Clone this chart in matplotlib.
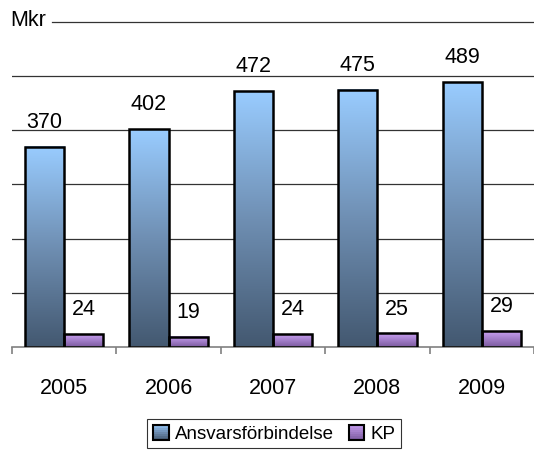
import numpy as np
import matplotlib
matplotlib.use("Agg")
import matplotlib.pyplot as plt
from matplotlib.colors import LinearSegmentedColormap
from matplotlib.patches import Rectangle
from matplotlib.legend_handler import HandlerBase

years = ["2005", "2006", "2007", "2008", "2009"]
ansvar = [370, 402, 472, 475, 489]
kp = [24, 19, 24, 25, 29]
series_names = ["Ansvarsförbindelse", "KP"]

blue_cmap = LinearSegmentedColormap.from_list("blue", ["#435870", "#6f8fb3", "#99ccff"])
purple_cmap = LinearSegmentedColormap.from_list("purple", ["#7a5a9e", "#c9a0f2"])

plt.rcParams["font.family"] = ["Liberation Sans", "DejaVu Sans"]

fig = plt.figure(figsize=(5.34, 4.5), dpi=100)
ax = fig.add_axes([12 / 534, 1 - 347 / 450, 1 - 12 / 534, 325 / 450])

width = 0.375
grad = np.linspace(0, 1, 256).reshape(-1, 1)


def gradient_bar(x0, h, cmap):
    ax.imshow(grad, extent=[x0, x0 + width, 0, h], origin="lower",
              aspect="auto", cmap=cmap, zorder=2, interpolation="bicubic")
    ax.add_patch(Rectangle((x0, 0), width, h, fill=False, edgecolor="black",
                           linewidth=1.8, zorder=3))


for i, (a, k) in enumerate(zip(ansvar, kp)):
    gradient_bar(i - width, a, blue_cmap)
    gradient_bar(i, k, purple_cmap)
    ax.annotate(str(a), (i - width / 2, a), xytext=(0, 10), textcoords="offset points",
                ha="center", va="bottom", fontsize=15.5)
    ax.annotate(str(k), (i + width / 2, k), xytext=(0, 10), textcoords="offset points",
                ha="center", va="bottom", fontsize=15.5)

ax.set_xlim(-0.5, 4.5)
ax.set_ylim(0, 600)

for y in range(100, 600, 100):
    ax.axhline(y, color="#333333", linewidth=0.9, zorder=1)
# top gridline starts after the unit label
ax.axhline(600, xmin=40 / 522, xmax=1, color="#333333", linewidth=0.9, clip_on=False)
fig.text(10 / 534, 1 - 21 / 450, "Mkr", fontsize=15.5, ha="left", va="center")

for s in ["left", "right", "top"]:
    ax.spines[s].set_visible(False)
ax.spines["bottom"].set_color("#808080")
ax.spines["bottom"].set_linewidth(1.2)

ax.set_yticks([])
ax.set_xticks(np.arange(-0.5, 5, 1))
ax.set_xticklabels([])
ax.tick_params(axis="x", which="major", length=5, color="#808080", width=1.2, direction="out")
ax.set_xticks(range(len(years)), minor=True)
ax.set_xticklabels(years, minor=True, fontsize=15.5)
ax.tick_params(axis="x", which="minor", length=0, pad=22)


class GradHandler(HandlerBase):
    def __init__(self, cmap):
        super().__init__()
        self.cmap = cmap

    def create_artists(self, legend, orig_handle, xdescent, ydescent, width, height, fontsize, trans):
        arts = []
        n = 8
        for j in range(n):
            r = Rectangle((-xdescent, -ydescent + height * j / n), width, height / n,
                          facecolor=self.cmap((j + 0.5) / n), edgecolor="none", transform=trans)
            arts.append(r)
        arts.append(Rectangle((-xdescent, -ydescent), width, height, fill=False,
                              edgecolor="black", linewidth=1.5, transform=trans))
        return arts


h1 = Rectangle((0, 0), 1, 1)
h2 = Rectangle((0, 0), 1, 1)
leg = fig.legend([h1, h2], series_names, loc="upper center",
                 bbox_to_anchor=(274 / 534, 1 - 419 / 450), ncol=2,
                 handler_map={h1: GradHandler(blue_cmap), h2: GradHandler(purple_cmap)},
                 prop={"size": 13.5},
                 frameon=True, fancybox=False, edgecolor="black", handlelength=0.85,
                 handleheight=0.85, handletextpad=0.3, columnspacing=0.8,
                 borderpad=0.3, borderaxespad=0)
leg.get_frame().set_linewidth(0.8)

fig.savefig("out.png", dpi=100)
